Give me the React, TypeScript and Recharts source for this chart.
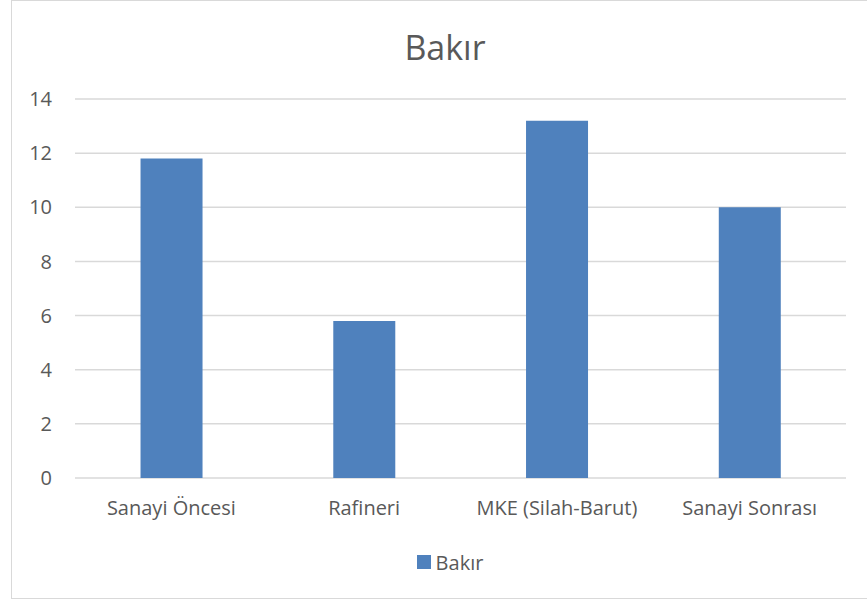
import React from 'react';
import { BarChart, Bar, XAxis, YAxis, CartesianGrid, Legend } from 'recharts';

// values
const categories = ['Sanayi Öncesi', 'Rafineri', 'MKE (Silah-Barut)', 'Sanayi Sonrası'];
const bakirValues = [11.8, 5.8, 13.2, 10.0];
const yTicks = [0, 2, 4, 6, 8, 10, 12, 14];

const BAR_COLOR = '#4f81bd';
const TEXT_COLOR = '#595959';
const GRID_COLOR = '#d9d9d9';
const FONT = '"Open Sans", "Liberation Sans", sans-serif';

const data = categories.map((name, i) => ({ name, Bakır: bakirValues[i] }));

// Legend with a small square marker, like the Excel chart
const LegendContent = ({ payload }: any) => (
    <div style={{ display: 'flex', justifyContent: 'center', fontFamily: FONT, height: 24 }}>
        {(payload || []).map((entry: any) => (
            <div key={entry.value} style={{ display: 'flex', alignItems: 'center', gap: 5 }}>
                <div style={{ width: 14, height: 14, background: entry.color }} />
                <span style={{ color: TEXT_COLOR, fontSize: 20 }}>{entry.value}</span>
            </div>
        ))}
    </div>
);

export default function App() {
    return (
        <div style={{ position: 'absolute', left: 0, top: 0, width: 867, height: 602, background: '#fff' }}>
            <div
                style={{
                    position: 'absolute',
                    left: 11,
                    top: 0,
                    width: 870,
                    height: 599,
                    border: `1.5px solid ${GRID_COLOR}`,
                    boxSizing: 'border-box',
                }}
            />
            <div
                style={{
                    position: 'absolute',
                    left: 0,
                    top: 24,
                    width: 890,
                    textAlign: 'center',
                    fontFamily: FONT,
                    fontSize: 34,
                    lineHeight: '46px',
                    color: TEXT_COLOR,
                }}
            >
                Bakır
            </div>
            <div style={{ position: 'absolute', left: 0, top: 0 }}>
                <BarChart
                    width={867}
                    height={602}
                    data={data}
                    margin={{ top: 99, right: 21, left: 0, bottom: 70 }}
                    barCategoryGap="34%"
                >
                    <CartesianGrid stroke={GRID_COLOR} strokeWidth={1.5} vertical={false} />
                    <XAxis
                        dataKey="name"
                        axisLine={false}
                        tickLine={false}
                        height={30}
                        tickMargin={17}
                        tick={{ fill: TEXT_COLOR, fontSize: 20, fontFamily: FONT }}
                        interval={0}
                    />
                    <YAxis
                        width={75}
                        domain={[0, 14]}
                        ticks={yTicks}
                        axisLine={false}
                        tickLine={false}
                        tickMargin={17}
                        tick={{ fill: TEXT_COLOR, fontSize: 20, fontFamily: FONT }}
                    />
                    <Legend
                        content={<LegendContent />}
                        wrapperStyle={{ position: 'absolute', top: 550, left: 0, width: 900 }}
                    />
                    <Bar dataKey="Bakır" fill={BAR_COLOR} isAnimationActive={false} />
                </BarChart>
            </div>
        </div>
    );
}
